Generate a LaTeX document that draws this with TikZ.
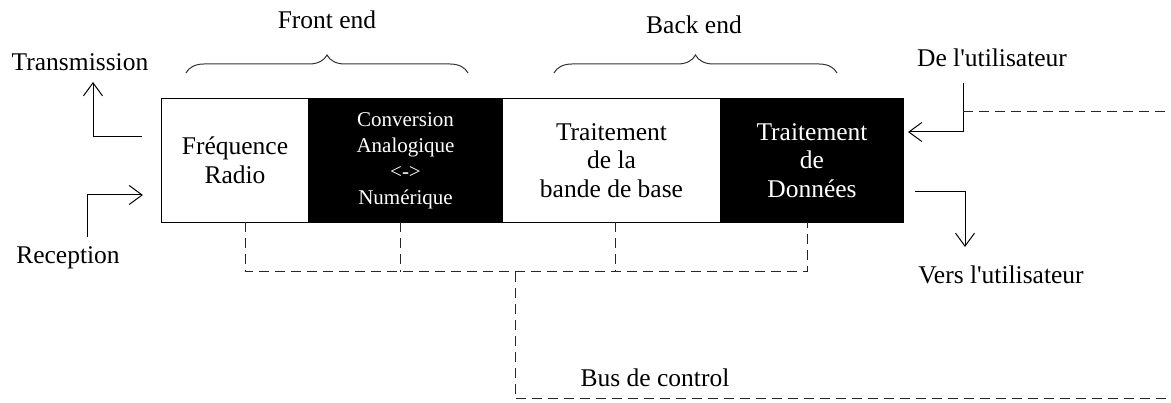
\documentclass[tikz,border=0pt]{standalone}
\usepackage{fontspec}
\setmainfont{Liberation Serif}
\usetikzlibrary{arrows.meta,decorations.pathreplacing}
\begin{document}
\begin{tikzpicture}[x=1pt,y=-1pt,
  lbl/.style={font=\fontsize{25.5}{29}\selectfont, inner sep=0pt},
  block/.style={draw=black, line width=1pt, minimum height=124pt, anchor=north west,
    align=center, inner sep=0pt, font=\fontsize{25.5}{28.7}\selectfont},
  lightblock/.style={block, fill=white, text=black},
  darkblock/.style={block, fill=black, text=white},
  flow/.style={line width=1pt, -{Straight Barb[length=13pt,width=19pt]}},
  bus/.style={line width=1pt, black!85, dash pattern=on 10pt off 6pt},
  grp/.style={decorate, decoration={brace, amplitude=18pt}, line width=1pt, black!80}
]
\useasboundingbox (0,0) rectangle (1171,403);

% processing chain
\node[lightblock, minimum width=147pt] (rf) at (161,98) {Fréquence\\Radio};
\node[darkblock, minimum width=194pt, font=\fontsize{21}{26}\selectfont] (adc) at (308,98)
  {Conversion\\Analogique\\<->\\Numérique};
\node[lightblock, minimum width=218pt] (bb) at (502,98) {Traitement\\de la\\bande de base};
\node[darkblock, minimum width=183pt] (data) at (720,98) {Traitement\\de\\Données};

% group labels and braces
\node[lbl] (front) at (327,20) {Front end};
\node[lbl] (back) at (694,25) {Back end};
\draw[grp] (186,73) -- (468,73);
\draw[grp] (554,73) -- (837,73);

% radio side
\node[lbl] (tx) at (80,62) {Transmission};
\node[lbl] (rx) at (68,258) {Reception};
\coordinate (txout) at (142,137);
\coordinate (txtip) at (93,82);
\coordinate (rxin) at (87,237);
\coordinate (rxtip) at (143,195);
\draw[flow] (txout) -| (txtip);
\draw[flow] (rxin) |- (rxtip);

% user side
\node[lbl] (fromuser) at (992,58) {De l\textquotesingle utilisateur};
\node[lbl] (touser) at (1001,275) {Vers l\textquotesingle utilisateur};
\coordinate (uin) at (963,83);
\coordinate (utip) at (908,132);
\coordinate (uout) at (915,192);
\coordinate (dtip) at (965,247);
\draw[flow] (uin) |- (utip);
\draw[flow] (uout) -| (dtip);
\draw[bus] (963,112) -- (1171,112);

% control bus
\draw[bus] (245,222) |- (807,272) -- (807,222);
\draw[bus] (400,222) -- (400,272);
\draw[bus] (615,222) -- (615,272);
\draw[bus] (515,272) |- (1171,399);
\node[lbl] (busname) at (655,378) {Bus de control};
\end{tikzpicture}
\end{document}
